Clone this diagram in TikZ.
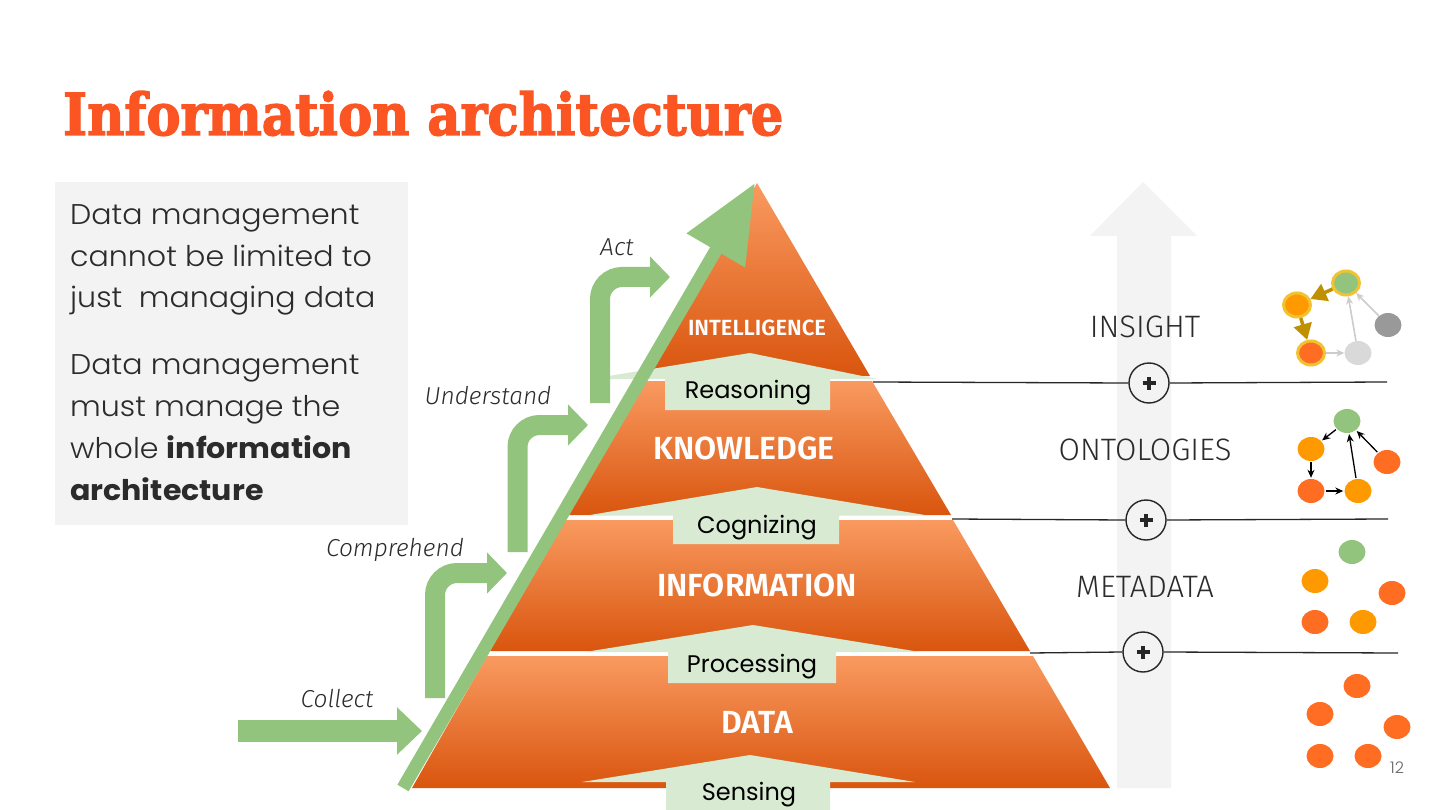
\documentclass[tikz,border=0pt]{standalone}
\usepackage{fontspec}
\usetikzlibrary{arrows.meta,shapes.geometric}
\setmainfont{Poppins}
\newfontfamily\boxfont{Poppins Light}[BoldFont={Poppins Bold}, FakeStretch=1.055]
\newfontfamily\numfont{Poppins Light}
\newfontfamily\labfont{Fira Sans Light}[ItalicFont={Fira Sans Light Italic}]
\newfontfamily\bandfont{Fira Sans SemiBold}
\newfontfamily\titlefont{DejaVu Serif}[BoldFeatures={FakeBold=2.5}]
\newfontfamily\pillfont{Poppins}
\definecolor{ttl}{HTML}{FA5522}
\definecolor{olight}{HTML}{F99A60}
\definecolor{odark}{HTML}{D9550E}
\definecolor{grn}{HTML}{93C47D}
\definecolor{pale}{HTML}{D9EAD3}
\definecolor{boxgray}{HTML}{F3F3F3}
\definecolor{txt}{HTML}{2B2B2B}
\definecolor{gold}{HTML}{F1C232}
\definecolor{goldarr}{HTML}{BF9000}
\definecolor{nor}{HTML}{FF9900}
\definecolor{nred}{HTML}{FF6D22}
\definecolor{nlgray}{HTML}{D9D9D9}
\definecolor{ndgray}{HTML}{999999}
\definecolor{lgarr}{HTML}{CCCCCC}
\tikzset{
  boxline/.style={anchor=base west, inner sep=0, text=txt, font=\boxfont\fontsize{28.5}{34}\selectfont},
  stagelbl/.style={anchor=base, inner sep=0, text=txt, font=\labfont\itshape\fontsize{24.5}{30}\selectfont},
  levellbl/.style={anchor=base, inner sep=0, text=txt, font=\labfont\fontsize{31}{36}\selectfont},
  bandlbl/.style={anchor=base, inner sep=0, text=white, font=\bandfont\fontsize{32}{38}\selectfont},
  pilllbl/.style={anchor=base, inner sep=0, text=black, font=\pillfont\fontsize{24}{30}\selectfont},
  band/.style={top color=olight, bottom color=odark, draw=none},
  palearrow/.style={fill=pale, draw=none},
  elbow/.style={grn, line width=20pt, rounded corners=22pt, -{Triangle[length=20pt,width=40pt]}},
  dot/.style={ellipse, minimum width=27pt, minimum height=24pt, inner sep=0, draw=none},
  ringdot/.style={dot, draw=gold, line width=3pt},
  plusnode/.style={circle, draw=black!85, line width=1.4pt, minimum size=40pt, inner sep=0},
  hline/.style={draw=black!85, line width=1.3pt},
  blkarr/.style={draw=black, line width=1.3pt, -{Stealth[length=8pt,width=7pt]}, shorten <=1pt, shorten >=1pt},
  goldarrow/.style={draw=goldarr, line width=3.5pt, -{Triangle[length=16pt,width=18pt]}},
  grayarrow/.style={draw=lgarr, line width=1.6pt, -{Stealth[length=8pt,width=7pt]}}
}
\begin{document}
\begin{tikzpicture}[x=1pt,y=-1pt]
\useasboundingbox (0,0) rectangle (1440,810);
\fill[white] (0,0) rectangle (1440,810);

% title
\node[anchor=base west, inner sep=0] (title) at (63,135)
  {\resizebox{720pt}{44pt}{\color{ttl}\titlefont\bfseries Information architecture}};

% left text box
\node[fill=boxgray, anchor=north west, minimum width=353pt, minimum height=343pt, inner sep=0] (box) at (55,182) {};
\node[boxline] (b1) at (70,225) {Data management};
\node[boxline] (b2) at (70,267) {cannot be limited to};
\node[boxline] (b3) at (70,308) {just\ \ managing data};
\node[boxline] (b4) at (70,374) {Data management};
\node[boxline] (b5) at (70,416) {must manage the};
\node[boxline] (b6) at (70,458) {whole \textbf{information}};
\node[boxline] (b7) at (70,500) {\textbf{architecture}};

% gray insight arrow
\fill[boxgray] (1117,788) -- (1117,236) -- (1090,236) -- (1143,182) -- (1197,236) -- (1171,236) -- (1171,788) -- cycle;

% pyramid bands
\shade[band] (647,376) -- (757,183) -- (870,376) -- cycle;
\shade[band] (644,381) -- (872,381) -- (951,515) -- (568,515) -- cycle;
\shade[band] (565,520) -- (953,520) -- (1030,651) -- (490,651) -- cycle;
\shade[band] (487,656) -- (1033,656) -- (1110,788) -- (412,788) -- cycle;

% pale up arrows
\fill[palearrow] (590,379) -- (750,353) -- (877,379) -- (830,379) -- (830,410) -- (665,410) -- (665,379) -- cycle;
\fill[palearrow] (590,515) -- (757,487) -- (925,515) -- (839,515) -- (839,544) -- (673,544) -- (673,515) -- cycle;
\fill[palearrow] (585,652) -- (753,625) -- (920,652) -- (836,652) -- (836,683) -- (668,683) -- (668,652) -- cycle;
\fill[palearrow] (582,782) -- (750,755) -- (915,782) -- (830,782) -- (830,810) -- (666,810) -- (666,782) -- cycle;

\node[pilllbl] (reason) at (748,398) {Reasoning};
\node[pilllbl] (cogn) at (757,533) {Cognizing};
\node[pilllbl] (proc) at (752,672) {Processing};
\node[pilllbl] (sens) at (749,800) {Sensing};

\node[bandlbl, font=\bandfont\fontsize{22}{26}\selectfont] (intel) at (757,335) {INTELLIGENCE};
\node[bandlbl] (know) at (744,459) {KNOWLEDGE};
\node[bandlbl] (info) at (757,596) {INFORMATION};
\node[bandlbl] (data) at (757,733) {DATA};

% big green arrow along the left edge
\coordinate (gs) at (403,788);
\coordinate (gt) at (755,183);
\draw[grn, line width=13pt, -{Triangle[length=78pt,width=64pt]}] (gs) -- (gt);

% collect arrow
\coordinate (ca) at (238,731);
\coordinate (cb) at (422,731);
\draw[grn, line width=22pt, -{Triangle[length=25pt,width=46pt]}] (ca) -- (cb);
% elbow arrows
\coordinate (e1a) at (435,698); \coordinate (e1b) at (507,573);
\coordinate (e2a) at (517.5,552); \coordinate (e2b) at (588,425);
\coordinate (e3a) at (600,403); \coordinate (e3b) at (670,277);
\draw[elbow] (e1a) |- (e1b);
\draw[elbow] (e2a) |- (e2b);
\draw[elbow] (e3a) |- (e3b);

\node[stagelbl] (act) at (617,256) {Act};
\node[stagelbl] (und) at (488,404) {Understand};
\node[stagelbl] (comp) at (395,556) {Comprehend};
\node[stagelbl] (coll) at (337,707) {Collect};

% level labels
\node[levellbl] (ins) at (1145,337) {INSIGHT};
\node[levellbl] (ont) at (1145,460) {ONTOLOGIES};
\node[levellbl] (meta) at (1145,597) {METADATA};

% separator lines with plus circles
\node[plusnode] (p1) at (1149,383) {};
\node[plusnode] (p2) at (1146,520) {};
\node[plusnode] (p3) at (1143,652) {};
\foreach \p in {p1,p2,p3}{
  \draw[black!85, line width=3.8pt] ([xshift=-6.5pt]\p.center) -- ([xshift=6.5pt]\p.center);
  \draw[black!85, line width=3.8pt] ([yshift=-6.5pt]\p.center) -- ([yshift=6.5pt]\p.center);
}
\coordinate (l1a) at (873,382); \coordinate (l1b) at (1387,382);
\coordinate (l2a) at (952,519); \coordinate (l2b) at (1388,519);
\coordinate (l3a) at (1030,653); \coordinate (l3b) at (1398,653);
\draw[hline] (l1a) -- (p1.west); \draw[hline] (p1.east) -- (l1b);
\draw[hline] (l2a) -- (p2.west); \draw[hline] (p2.east) -- (l2b);
\draw[hline] (l3a) -- (p3.west); \draw[hline] (p3.east) -- (l3b);

% insight graph
\node[ringdot, fill=grn] (ig) at (1346,283) {};
\node[ringdot, fill=nor] (io) at (1297,305) {};
\node[ringdot, fill=nred] (ir) at (1311,353) {};
\node[dot, fill=nlgray] (il) at (1358,353) {};
\node[dot, fill=ndgray] (id) at (1388,325) {};
\draw[goldarrow] (ig) -- (io);
\draw[goldarrow] (io) -- (ir);
\draw[grayarrow] (ir) -- (il);
\draw[grayarrow] (il) -- (ig);
\draw[grayarrow] (id) -- (ig);

% ontology graph
\node[dot, fill=grn] (og) at (1347,421) {};
\node[dot, fill=nor] (oo) at (1311,449) {};
\node[dot, fill=nred] (or) at (1387,462) {};
\node[dot, fill=nred] (or2) at (1311,491) {};
\node[dot, fill=nor] (oo2) at (1358,491) {};
\draw[blkarr] (og) -- (oo);
\draw[blkarr] (oo) -- (or2);
\draw[blkarr] (or2) -- (oo2);
\draw[blkarr] (oo2) -- (og);
\draw[blkarr] (or) -- (og);

% metadata dots
\node[dot, fill=grn] (m1) at (1352,552) {};
\node[dot, fill=nor] (m2) at (1315,581) {};
\node[dot, fill=nred] (m3) at (1392,593) {};
\node[dot, fill=nred] (m4) at (1315,622) {};
\node[dot, fill=nor] (m5) at (1363,622) {};

% data dots
\node[dot, fill=nred] (d1) at (1357,686) {};
\node[dot, fill=nred] (d2) at (1320,714) {};
\node[dot, fill=nred] (d3) at (1397,727) {};
\node[dot, fill=nred] (d4) at (1320,756) {};
\node[dot, fill=nred] (d5) at (1368,756) {};

% page number
\node[anchor=base, inner sep=0, text=black!60, font=\numfont\fontsize{16}{18}\selectfont] (pg) at (1397,773) {12};
\end{tikzpicture}
\end{document}
